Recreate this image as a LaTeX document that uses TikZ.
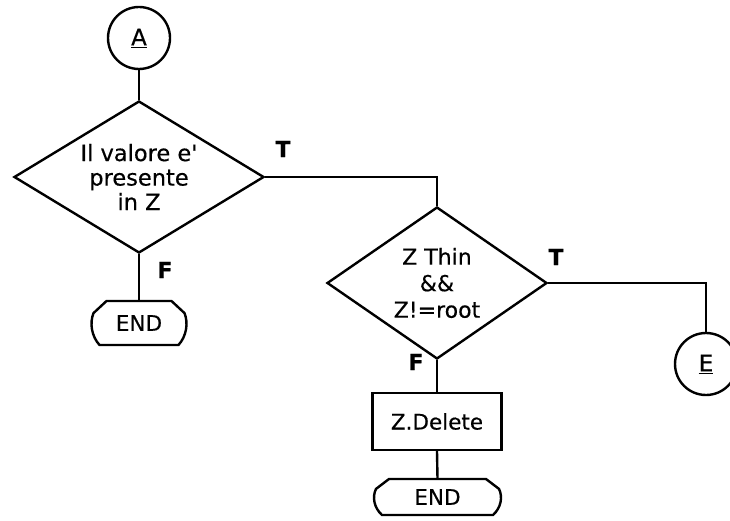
\documentclass[tikz,border=0pt]{standalone}
\usepackage{fontspec}
\setmainfont{DejaVu Sans}[FakeBold=0.4]
\usetikzlibrary{shapes.geometric,calc}

% Terminator outline: flat top and bottom, bevelled upper corners, rounded lower sides.
% #1 = node name, #2 = half width, #3 = half height
\newcommand\terminatoroutline[3]{%
  \draw[flowline,shift={(#1.center)}]
    ({-#2+16},{-#3}) -- ({#2-16},{-#3})
    -- ({#2-3},{-0.45*#3})
    .. controls ({#2+1},0) and ({#2-1},{0.6*#3}) .. ({#2-9},{#3})
    -- ({-#2+9},{#3})
    .. controls ({-#2+1},{0.6*#3}) and ({-#2-1},0) .. ({-#2+3},{-0.45*#3})
    -- cycle;}

\begin{document}
\begin{tikzpicture}[x=1pt,y=-1pt,
  flowline/.style={draw=black,line width=2.4pt,line join=miter},
  connector/.style={flowline},
  decision/.style={diamond,flowline,inner sep=0pt,align=center,
    font=\fontsize{22.5}{24.5}\selectfont},
  process/.style={rectangle,flowline,inner sep=0pt,
    font=\fontsize{21.5}{24}\selectfont},
  terminator/.style={rectangle,draw=none,inner sep=0pt,
    font=\fontsize{21.5}{23}\selectfont},
  connpoint/.style={circle,flowline,inner sep=0pt,minimum size=62pt,
    font=\fontsize{23}{25}\selectfont},
  branch/.style={font=\fontsize{22}{24}\selectfont\bfseries}]

\useasboundingbox (0,0) rectangle (730,521);

% entry connector
\node[connpoint] (A) at (139,38) {\underline{A}};

% first decision
\node[decision,aspect=1.64,minimum width=250pt,minimum height=152pt] (d1) at (139,177)
  {Il valore e\textquotesingle\\presente\\in Z};
\node[branch] (t1) at (283,149) {T};
\node[branch] (f1) at (165,270) {F};

% end of the false branch
\node[terminator,minimum width=97pt,minimum height=44pt] (end1) at (139,323) {END};
\terminatoroutline{end1}{48.5}{22}

% second decision
\node[decision,aspect=1.45,minimum width=220pt,minimum height=152pt,
  font=\fontsize{22}{26.5}\selectfont] (d2) at (437,283)
  {Z Thin\\\&\&\\Z!=root};
\node[branch] (t2) at (556,257) {T};
\node[branch] (f2) at (416,362) {F};

% delete step
\node[process,minimum width=129pt,minimum height=57pt] (del) at (437,421.5) {Z.Delete};

% final terminator
\node[terminator,minimum width=129pt,minimum height=36pt] (end2) at (437.5,497) {END};
\terminatoroutline{end2}{64.5}{18}

% exit connector
\node[connpoint] (E) at (706,364) {\underline{E}};

% connectors
\draw[connector] (A.south) -- (d1.north);
\draw[connector] (d1.east) -| (d2.north);
\draw[connector] (d1.south) -- (end1.north);
\draw[connector] (d2.east) -| (E.north);
\draw[connector] (d2.south) -- (del.north);
\draw[connector] (del.south) -- (end2.north);

\end{tikzpicture}
\end{document}
